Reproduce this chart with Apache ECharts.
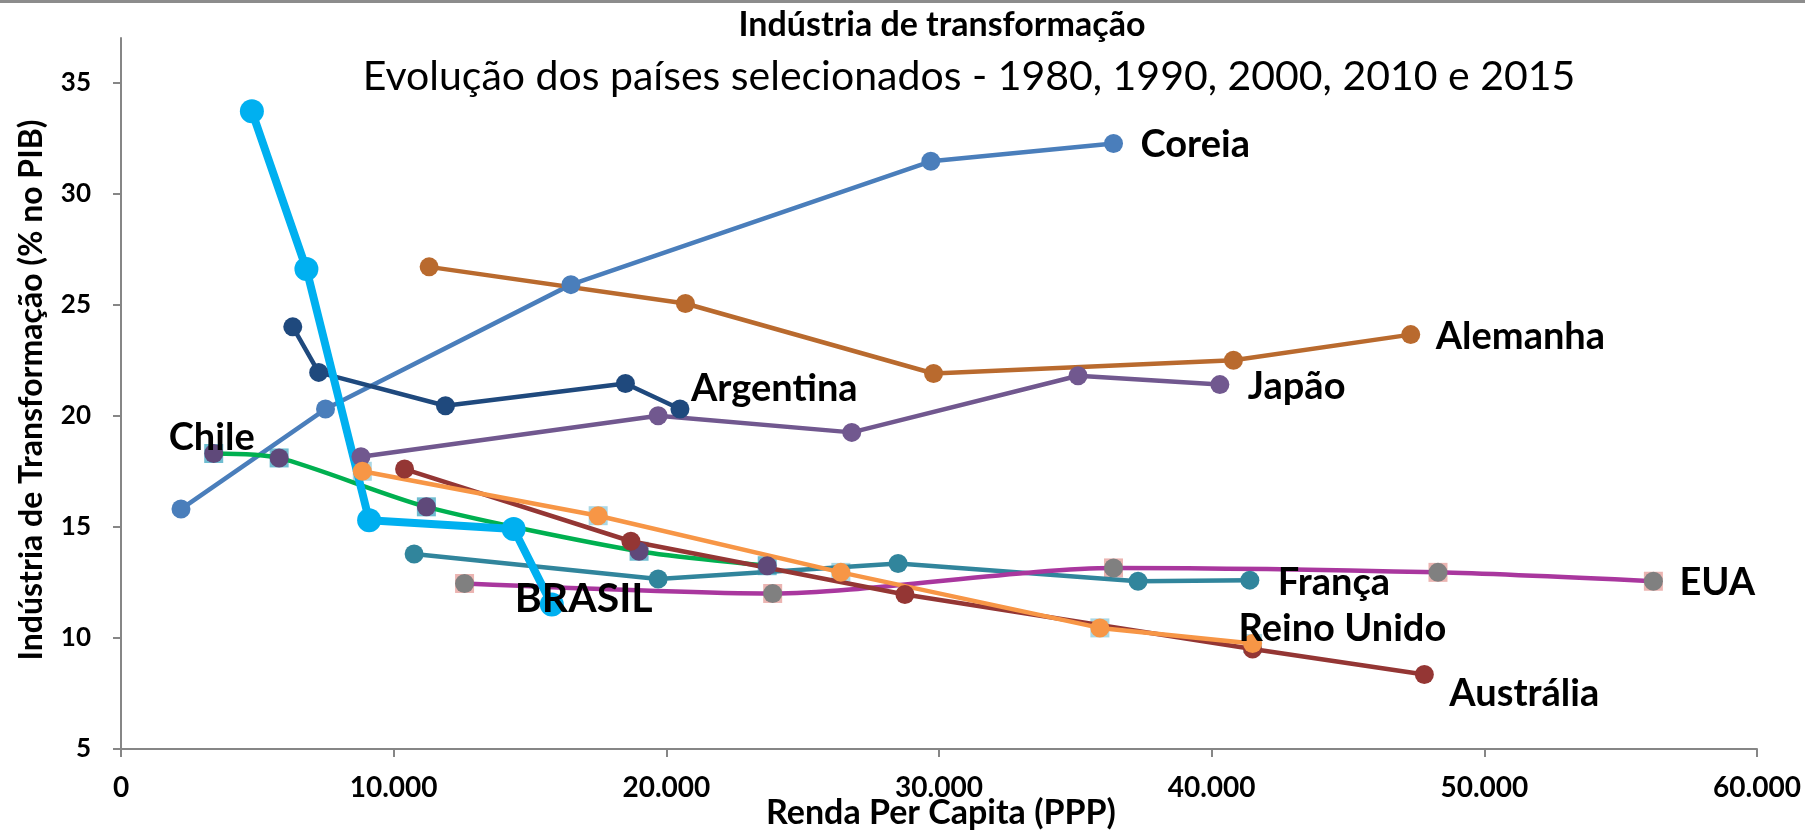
<!DOCTYPE html>
<html>
<head>
<meta charset="utf-8">
<title>Indústria de transformação</title>
<script src="https://cdn.jsdelivr.net/npm/echarts@6/dist/echarts.min.js"></script>
<style>
  html, body { margin: 0; padding: 0; background: #fff; }
  #chart { width: 1805px; height: 830px; border-top: 3px solid #8c8c8c; }
</style>
</head>
<body>
<div id="chart"></div>
<script>
// renda per capita (PPP) x indústria de transformação (% do PIB)
// pontos: 1980, 1990, 2000, 2010, 2015
const coreia = [[2200, 15.8], [7500, 20.3], [16500, 25.9], [29700, 31.45], [36400, 32.25]];
const alemanha = [[11300, 26.7], [20700, 25.05], [29800, 21.9], [40800, 22.5], [47300, 23.65]];
const japao = [[8800, 18.15], [19700, 20.0], [26800, 19.25], [35100, 21.8], [40300, 21.4]];
const argentina = [[6300, 24.0], [7250, 21.95], [11900, 20.45], [18500, 21.45], [20500, 20.3]];
const chile = [[3400, 18.3], [5800, 18.1], [11200, 15.9], [19000, 13.9], [23700, 13.25]];
const australia = [[10400, 17.6], [18700, 14.35], [28750, 11.95], [41500, 9.5], [47800, 8.35]];
const reinoUnido = [[8850, 17.5], [17500, 15.5], [26400, 12.95], [35900, 10.45], [41500, 9.75]];
const franca = [[10750, 13.78], [19700, 12.65], [28500, 13.35], [37300, 12.55], [41400, 12.6]];
const eua = [[12600, 12.45], [23900, 12.0], [36400, 13.15], [48300, 12.95], [56200, 12.55]];
const brasil = [[4800, 33.7], [6800, 26.6], [9100, 15.3], [14400, 14.9], [15800, 11.5]];

const xTicks = [0, 10000, 20000, 30000, 40000, 50000, 60000];
const yTicks = [5, 10, 15, 20, 25, 30, 35];

const font = 'Lato, "Open Sans", sans-serif';
const chart = echarts.init(document.getElementById('chart'));

// uma linha por país, com o nome no fim da linha
function pais(name, data, color, offset, extra) {
  return Object.assign({
    name: name,
    type: 'line',
    data: data,
    symbol: 'circle',
    symbolSize: 19,
    lineStyle: { color: color, width: 4.5 },
    itemStyle: { color: color },
    endLabel: {
      show: true,
      formatter: () => name,
      color: '#000',
      fontFamily: font,
      fontWeight: 'bold',
      fontSize: 38,
      distance: 8,
      offset: offset
    },
    z: 3
  }, extra || {});
}

// quadrados atrás de alguns marcadores (como no Excel)
function quadrados(data, color) {
  return {
    type: 'scatter',
    data: data,
    symbol: 'rect',
    symbolSize: 19,
    itemStyle: { color: color },
    silent: true,
    z: 2
  };
}

const fmtMil = v => String(v).replace(/\B(?=(\d{3})+(?!\d))/g, '.');

chart.setOption({
  animation: false,
  backgroundColor: '#fff',
  textStyle: { fontFamily: font },
  grid: { left: 121, right: 48, top: 35, bottom: 84 },
  xAxis: {
    type: 'value',
    min: 0,
    max: 60000,
    interval: 10000,
    splitLine: { show: false },
    axisLine: { lineStyle: { color: '#868686', width: 2 } },
    axisTick: { show: true, length: 8, lineStyle: { color: '#868686', width: 2 }, customValues: xTicks },
    axisLabel: {
      customValues: xTicks,
      formatter: fmtMil,
      color: '#000', fontFamily: font, fontWeight: 'bold', fontSize: 28, margin: 25
    }
  },
  yAxis: {
    type: 'value',
    min: 5,
    max: 37,
    interval: 5,
    splitLine: { show: false },
    axisLine: { show: true, lineStyle: { color: '#868686', width: 2 } },
    axisTick: { show: true, length: 8, lineStyle: { color: '#868686', width: 2 }, customValues: yTicks },
    axisLabel: {
      customValues: yTicks,
      color: '#000', fontFamily: font, fontWeight: 'bold', fontSize: 26, margin: 30
    }
  },
  graphic: [
    {
      type: 'text', x: 942, y: 22,
      style: { text: 'Indústria de transformação', fill: '#000', font: 'bold 34px ' + font, textAlign: 'center', textVerticalAlign: 'middle' }
    },
    {
      type: 'text', x: 969, y: 74,
      style: { text: 'Evolução dos países selecionados - 1980, 1990, 2000, 2010 e 2015', fill: '#000', font: '41px ' + font, textAlign: 'center', textVerticalAlign: 'middle' }
    },
    {
      type: 'text', x: 32, y: 387, rotation: Math.PI / 2,
      style: { text: 'Indústria de Transformação (% no PIB)', fill: '#000', font: 'bold 32px ' + font, textAlign: 'center', textVerticalAlign: 'middle' }
    },
    {
      type: 'text', x: 941, y: 810,
      style: { text: 'Renda Per Capita (PPP)', fill: '#000', font: 'bold 34px ' + font, textAlign: 'center', textVerticalAlign: 'middle' }
    }
  ],
  series: [
    quadrados(chile, '#4BACC6'),
    quadrados(reinoUnido, '#93CDDD'),
    quadrados(eua, '#E6A19E'),
    pais('Coreia', coreia, '#4A7EBB', [19, 1]),
    pais('Alemanha', alemanha, '#B96A2E', [17, 2]),
    pais('Japão', japao, '#71588F', [20, 2]),
    pais('Argentina', argentina, '#1F497D', [3, -20]),
    pais('Chile', chile.map((p, i) => i === 0 ? {
      value: p,
      label: { show: true, position: 'inside', offset: [-2, -16], formatter: 'Chile', color: '#000', fontFamily: font, fontWeight: 'bold', fontSize: 38 }
    } : p), '#00B050', [0, 0], {
      smooth: 0.25,
      itemStyle: { color: '#5F497A' },
      endLabel: { show: false }
    }),
    pais('França', franca, '#31859C', [20, 3]),
    pais('EUA', eua, '#A9379E', [18, 2], { smooth: 0.25, itemStyle: { color: '#808080' } }),
    pais('Austrália', australia, '#943634', [17, 19]),
    pais('Reino Unido', reinoUnido, '#F79646', [-22, -15]),
    pais('BRASIL', brasil, '#00B0F0', [-45, -6], {
      symbolSize: 24,
      lineStyle: { color: '#00B0F0', width: 8 },
      endLabel: { show: true, formatter: 'BRASIL', color: '#000', fontFamily: font, fontWeight: 'bold', fontSize: 41, distance: 8, offset: [-45, -6] }
    })
  ]
});
</script>
</body>
</html>
